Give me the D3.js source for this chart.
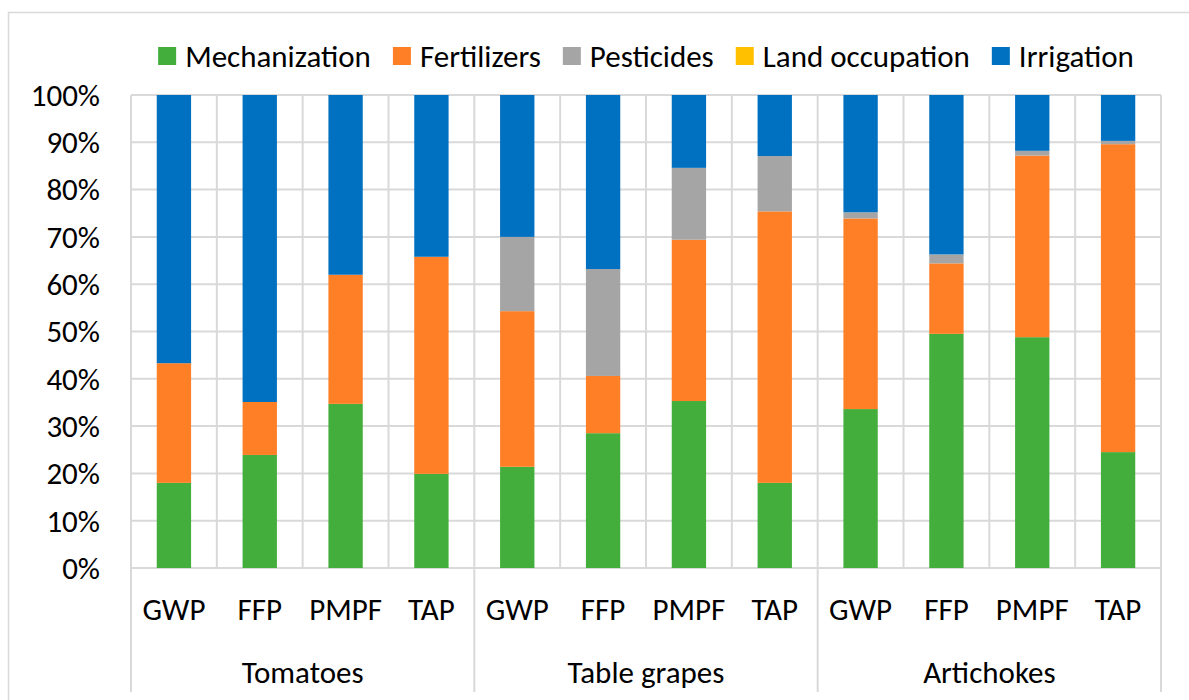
<!DOCTYPE html>
<html>
<head>
<meta charset="utf-8">
<script src="https://cdn.jsdelivr.net/npm/d3@7"></script>
<style>
  body { margin: 0; background: #fff; }
  text { font-family: Carlito, Calibri, Lato, "Open Sans", sans-serif; fill: #000; }
</style>
</head>
<body>
<svg id="chart"></svg>
<script>
// Data
const groups = ['Tomatoes', 'Table grapes', 'Artichokes'];
const indicators = ['GWP', 'FFP', 'PMPF', 'TAP'];
const seriesNames = ['Mechanization', 'Fertilizers', 'Pesticides', 'Land occupation', 'Irrigation'];
const seriesColors = ['#43AE3B', '#FF7F27', '#A5A5A5', '#FFC000', '#0070C0'];
const yTicks = [0, 10, 20, 30, 40, 50, 60, 70, 80, 90, 100];

// percentages, one entry per bar (Tomatoes GWP..TAP, Table grapes GWP..TAP, Artichokes GWP..TAP)
const mechanization = [18.0, 23.9, 34.7, 19.9, 21.4, 28.5, 35.3, 18.0, 33.6, 49.5, 48.8, 24.5];
const fertilizers   = [25.3, 11.2, 27.3, 45.9, 32.9, 12.1, 34.1, 57.4, 40.3, 14.9, 38.4, 65.1];
const pesticides    = [0.0, 0.0, 0.0, 0.0, 15.7, 22.6, 15.2, 11.7, 1.3, 1.9, 1.0, 0.7];
const landOccupation = [0, 0, 0, 0, 0, 0, 0, 0, 0, 0, 0, 0];
const irrigation    = [56.7, 64.9, 38.0, 34.2, 30.0, 36.8, 15.4, 12.9, 24.8, 33.7, 11.8, 9.7];

// Chart dimensions
const width = 1189;
const height = 700;
const margin = { top: 95, right: 28, bottom: 132, left: 131 };
const fontSize = '31px';

const svg = d3.select('#chart')
  .attr('width', width)
  .attr('height', height);

// outer frame
svg.append('rect')
  .attr('x', 8.5).attr('y', 12.5)
  .attr('width', width + 20).attr('height', height + 20)
  .attr('fill', 'none')
  .attr('stroke', '#D9D9D9')
  .attr('stroke-width', 1.5);

// build rows
const rows = [];
groups.forEach((g, gi) => {
  indicators.forEach((ind, ii) => {
    const i = gi * indicators.length + ii;
    rows.push({
      key: g + '|' + ind, group: g, indicator: ind,
      'Mechanization': mechanization[i],
      'Fertilizers': fertilizers[i],
      'Pesticides': pesticides[i],
      'Land occupation': landOccupation[i],
      'Irrigation': irrigation[i]
    });
  });
});

const stacked = d3.stack().keys(seriesNames)(rows);

// Scales
const xScale = d3.scaleBand()
  .domain(rows.map(d => d.key))
  .range([margin.left, width - margin.right])
  .padding(0);

const yScale = d3.scaleLinear()
  .domain([0, 100])
  .range([height - margin.bottom, margin.top]);

const plotBottom = height - margin.bottom;
const barW = xScale.bandwidth() * 0.4;

// horizontal gridlines
svg.append('g')
  .selectAll('line')
  .data(yTicks)
  .enter().append('line')
  .attr('x1', margin.left).attr('x2', width - margin.right)
  .attr('y1', d => yScale(d)).attr('y2', d => yScale(d))
  .attr('stroke', '#D9D9D9')
  .attr('stroke-width', 2);

// vertical gridlines at category boundaries
const bounds = rows.map(d => xScale(d.key)).concat([width - margin.right]);
svg.append('g')
  .selectAll('line')
  .data(bounds)
  .enter().append('line')
  .attr('x1', d => d).attr('x2', d => d)
  .attr('y1', margin.top).attr('y2', plotBottom)
  .attr('stroke', '#D9D9D9')
  .attr('stroke-width', 2);

// group separators below the axis
const groupBounds = groups.map(g => xScale(g + '|' + indicators[0])).concat([width - margin.right]);
svg.append('g')
  .selectAll('line')
  .data(groupBounds)
  .enter().append('line')
  .attr('x1', d => d).attr('x2', d => d)
  .attr('y1', plotBottom).attr('y2', 692)
  .attr('stroke', '#D9D9D9')
  .attr('stroke-width', 2);

// Bars
svg.append('g')
  .selectAll('g')
  .data(stacked)
  .enter().append('g')
  .attr('fill', (d, i) => seriesColors[i])
  .selectAll('rect')
  .data(d => d)
  .enter().append('rect')
  .attr('x', d => xScale(d.data.key) + (xScale.bandwidth() - barW) / 2)
  .attr('y', d => yScale(d[1]))
  .attr('width', barW)
  .attr('height', d => yScale(d[0]) - yScale(d[1]));

// Y-axis labels
svg.append('g')
  .selectAll('text')
  .data(yTicks)
  .enter().append('text')
  .attr('x', 100)
  .attr('y', d => yScale(d))
  .attr('dy', '0.35em')
  .attr('text-anchor', 'end')
  .style('font-size', fontSize)
  .text(d => d + '%');

// category labels
svg.append('g')
  .selectAll('text')
  .data(rows)
  .enter().append('text')
  .attr('x', d => xScale(d.key) + xScale.bandwidth() / 2)
  .attr('y', 609)
  .attr('dy', '0.35em')
  .attr('text-anchor', 'middle')
  .style('font-size', fontSize)
  .text(d => d.indicator);

// group labels
svg.append('g')
  .selectAll('text')
  .data(groups)
  .enter().append('text')
  .attr('x', (d, i) => (groupBounds[i] + groupBounds[i + 1]) / 2)
  .attr('y', 672)
  .attr('dy', '0.35em')
  .attr('text-anchor', 'middle')
  .style('font-size', fontSize)
  .text(d => d);

// Legend
const legend = svg.append('g');
const gap = 22;
let lx = 0;
seriesNames.forEach((name, i) => {
  const g = legend.append('g');
  g.append('rect')
    .attr('x', 0).attr('y', -9)
    .attr('width', 18).attr('height', 18)
    .attr('fill', seriesColors[i]);
  const t = g.append('text')
    .attr('x', 27).attr('dy', '0.35em')
    .style('font-size', fontSize)
    .text(name);
  const w = 27 + t.node().getComputedTextLength();
  g.attr('transform', `translate(${lx},0)`);
  lx += w + gap;
});
const legendW = lx - gap;
legend.attr('transform', `translate(${(margin.left + width - margin.right) / 2 - legendW / 2}, 56)`);
</script>
</body>
</html>
